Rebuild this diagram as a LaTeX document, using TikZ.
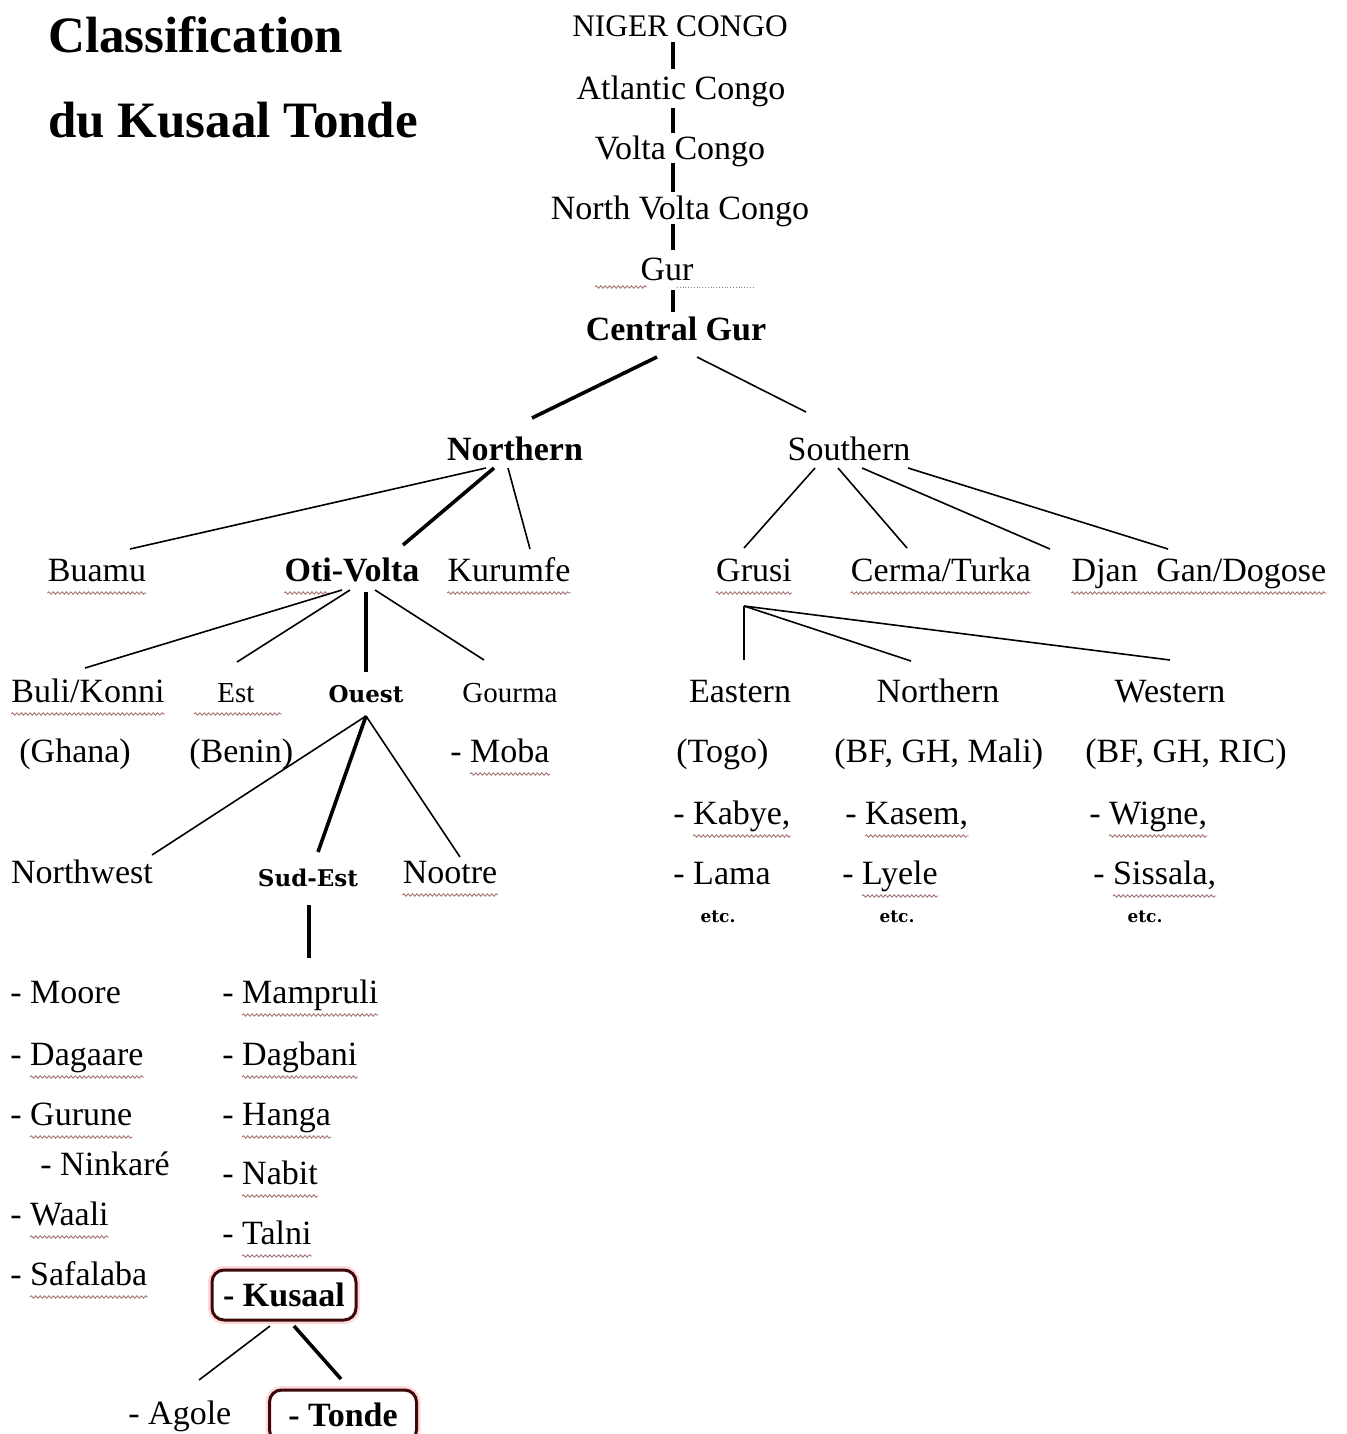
\documentclass[tikz,border=0pt]{standalone}
\usepackage{fontspec}
\setmainfont{Liberation Serif}
\newfontfamily\slabfont{DejaVu Serif}
\usetikzlibrary{calc,positioning,decorations.pathmorphing}
\definecolor{sqcol}{RGB}{165,115,115}
\definecolor{boxred}{RGB}{60,8,8}

\begin{document}
\begin{tikzpicture}[x=0.5pt,y=-0.5pt,
    every node/.style={inner sep=0pt,font=\fontsize{17}{20}\selectfont},
    grp/.style={font=\fontsize{17}{20}\selectfont\bfseries},
    slab/.style={font=\slabfont\bfseries\fontsize{11.5}{14}\selectfont},
    etcs/.style={font=\slabfont\bfseries\fontsize{8.5}{10}\selectfont},
    small/.style={font=\fontsize{14.5}{17}\selectfont},
    link/.style={line width=0.8pt},
    main link/.style={line width=1.8pt},
    squig/.style={draw=sqcol,line width=0.45pt,decorate,
      decoration={snake,amplitude=0.6pt,segment length=2.2pt}},
    sqline/.style 2 args={append after command={
      ([xshift=#1,yshift=-6pt]\tikzlastnode.base west) edge[squig]
      ([xshift=#2,yshift=-6pt]\tikzlastnode.base east)}},
    sq/.style={sqline={0pt}{0pt}},
    sq dash/.style={sqline={10pt}{0pt}},
    pick/.style={draw=boxred,line width=1.5pt,rounded corners=6pt,
      preaction={draw=red!15,line width=4pt},fill=white}]
  \useasboundingbox (0,0) rectangle (1347,1434);

  % title
  \node(title1) at (48,53) [anchor=base west,font=\fontsize{25.5}{30}\selectfont\bfseries] {Classification};
  \node(title2) at (48,138) [anchor=base west,font=\fontsize{25.5}{30}\selectfont\bfseries] {du Kusaal Tonde};

  % top chain
  \node(nc) at (680,37) [anchor=base,font=\fontsize{15.7}{19}\selectfont] {NIGER CONGO};
  \node(ac) at (681,99) [anchor=base] {Atlantic Congo};
  \node(vc) at (680,159) [anchor=base] {Volta Congo};
  \node(nvc) at (680,219) [anchor=base] {North Volta Congo};
  \node(gur) at (667,280) [anchor=base] {Gur};
  \node(cgur) at (676,340) [anchor=base,grp] {Central Gur};

  \draw ($(nc.base)+(-7,5)$) edge[main link] ($(ac.base)+(-8,-30)$);
  \draw ($(ac.base)+(-8,9)$) edge[main link] ($(vc.base)+(-7,-26)$);
  \draw ($(vc.base)+(-7,4)$) edge[main link] ($(nvc.base)+(-7,-27)$);
  \draw ($(nvc.base)+(-7,5)$) edge[main link] ($(gur.base)+(6,-30)$);
  \draw ($(gur.base)+(6,10)$) edge[main link] ($(cgur.base)+(-3,-28)$);
  \draw[squig] ($(gur.base)+(-72,7)$) -- ($(gur.base)+(-20,7)$);
  \draw[gray,densely dotted] ($(gur.base)+(10,7)$) -- ($(gur.base)+(86,7)$);

  % Northern / Southern
  \node(north) at (515,460) [anchor=base,grp] {Northern};
  \node(south) at (849,460) [anchor=base] {Southern};
  \draw ($(cgur.base)+(-19,17)$) edge[main link] ($(north.base)+(17,-42)$);
  \draw ($(cgur.base)+(21,17)$) edge[link] ($(south.base)+(-43,-48)$);

  \node(buamu) at (97,581) [anchor=base,sq] {Buamu};
  \node(otiv) at (352,581) [anchor=base,grp,sqline={0pt}{-45pt}] {Oti-Volta};
  \node(kurumfe) at (509,581) [anchor=base,sq] {Kurumfe};
  \node(grusi) at (754,581) [anchor=base,sq] {Grusi};
  \node(cerma) at (941,581) [anchor=base,sq] {Cerma/Turka};
  \node(djgan) at (1199,581) [anchor=base,sq] {Djan\hspace{5pt} Gan/Dogose};

  \draw ($(north.base)+(-29,8)$) edge[link] ($(buamu.base)+(33,-32)$);
  \draw ($(north.base)+(-21,8)$) edge[main link] ($(otiv.base)+(51,-36)$);
  \draw ($(north.base)+(-7,8)$) edge[link] ($(kurumfe.base)+(21,-32)$);
  \draw ($(south.base)+(-34,8)$) edge[link] ($(grusi.base)+(-10,-33)$);
  \draw ($(south.base)+(-11,8)$) edge[link] ($(cerma.base)+(-34,-33)$);
  \draw ($(south.base)+(13,8)$) edge[link] ($(djgan.base)+(-149,-32)$);
  \draw ($(south.base)+(59,8)$) edge[link] ($(djgan.base)+(-31,-32)$);

  % Oti-Volta
  \node(buli) at (88,702) [anchor=base,sq] {Buli/Konni};
  \node(est) at (236,702) [anchor=base,small,sqline={-11.5pt}{13.5pt}] {Est};
  \node(ouest) at (366,702) [anchor=base,slab] {Ouest};
  \node(gourma) at (510,702) [anchor=base,small] {Gourma};
  \node(ghana) at (19,762) [anchor=base west] {(Ghana)};
  \node(benin) at (189,762) [anchor=base west] {(Benin)};
  \node(moba) at (450,762) [anchor=base west,sq dash] {- Moba};

  \draw ($(otiv.base)+(-10,9)$) edge[link] ($(buli.base)+(-3,-34)$);
  \draw ($(otiv.base)+(-2,9)$) edge[link] ($(est.base)+(1,-40)$);
  \draw ($(otiv.base)+(14,11)$) edge[main link] ($(ouest.base)+(0,-30)$);
  \draw ($(otiv.base)+(23,9)$) edge[link] ($(gourma.base)+(-26,-42)$);

  % Ouest
  \node(nwest) at (82,883) [anchor=base] {Northwest};
  \node(sudest) at (308,886) [anchor=base,slab] {Sud-Est};
  \node(nootre) at (450,883) [anchor=base,sq] {Nootre};

  \draw ($(ouest.base)+(0,14)$) edge[link] ($(nwest.base)+(70,-28)$);
  \draw ($(ouest.base)+(0,14)$) edge[main link] ($(sudest.base)+(10,-34)$);
  \draw ($(ouest.base)+(0,14)$) edge[link] ($(nootre.base)+(10,-26)$);

  \node(moore) at (10,1003) [anchor=base west] {- Moore};
  \node(dagaare) at (10,1065) [anchor=base west,sq dash] {- Dagaare};
  \node(gurune) at (10,1125) [anchor=base west,sq dash] {- Gurune};
  \node(ninkare) at (40,1175) [anchor=base west] {- Ninkaré};
  \node(waali) at (10,1225) [anchor=base west,sq dash] {- Waali};
  \node(safalaba) at (10,1285) [anchor=base west,sq dash] {- Safalaba};

  \node(mampruli) at (222,1003) [anchor=base west,sq dash] {- Mampruli};
  \node(dagbani) at (222,1065) [anchor=base west,sq dash] {- Dagbani};
  \node(hanga) at (222,1125) [anchor=base west,sq dash] {- Hanga};
  \node(nabit) at (222,1184) [anchor=base west,sq dash] {- Nabit};
  \node(talni) at (222,1244) [anchor=base west,sq dash] {- Talni};
  \node(kusaal) at (284,1295) [pick,grp,minimum width=72pt,minimum height=25pt] {- Kusaal};

  \draw ($(sudest.base)+(1,19)$) edge[main link] ($(mampruli.base west)+(87,-45)$);

  \node(agole) at (128,1424) [anchor=base west,sq dash] {- Agole};
  \node(tonde) at (343,1416) [pick,grp,minimum width=73.5pt,minimum height=26pt,
    text height=12pt,text depth=2pt,sqline={19pt}{-9pt}] {- Tonde};

  \draw ($(kusaal)+(-14,31)$) edge[link] ($(agole.base west)+(71,-44)$);
  \draw ($(kusaal)+(10,31)$) edge[main link] ($(tonde)+(-2,-37)$);

  % Grusi
  \node(eastern) at (740,702) [anchor=base] {Eastern};
  \node(gnorth) at (938,702) [anchor=base] {Northern};
  \node(western) at (1170,702) [anchor=base] {Western};

  \draw ($(grusi.base)+(-10,25)$) edge[link] ($(eastern.base)+(4,-42)$);
  \draw ($(grusi.base)+(-10,25)$) edge[link] ($(gnorth.base)+(-27,-41)$);
  \draw ($(grusi.base)+(-10,25)$) edge[link] ($(western.base)+(0,-42)$);

  \node(togo) at (676,762) [anchor=base west] {(Togo)};
  \node(bfmali) at (834,762) [anchor=base west] {(BF, GH, Mali)};
  \node(bfric) at (1085,762) [anchor=base west] {(BF, GH, RIC)};
  \node(kabye) at (673,824) [anchor=base west,sq dash] {- Kabye,};
  \node(kasem) at (845,824) [anchor=base west,sq dash] {- Kasem,};
  \node(wigne) at (1089,824) [anchor=base west,sq dash] {- Wigne,};
  \node(lama) at (673,884) [anchor=base west] {- Lama};
  \node(lyele) at (842,884) [anchor=base west,sq dash] {- Lyele};
  \node(sissala) at (1093,884) [anchor=base west,sq dash] {- Sissala,};
  \node(etc1) at (718,922) [anchor=base,etcs] {etc.};
  \node(etc2) at (897,922) [anchor=base,etcs] {etc.};
  \node(etc3) at (1145,922) [anchor=base,etcs] {etc.};
\end{tikzpicture}
\end{document}
